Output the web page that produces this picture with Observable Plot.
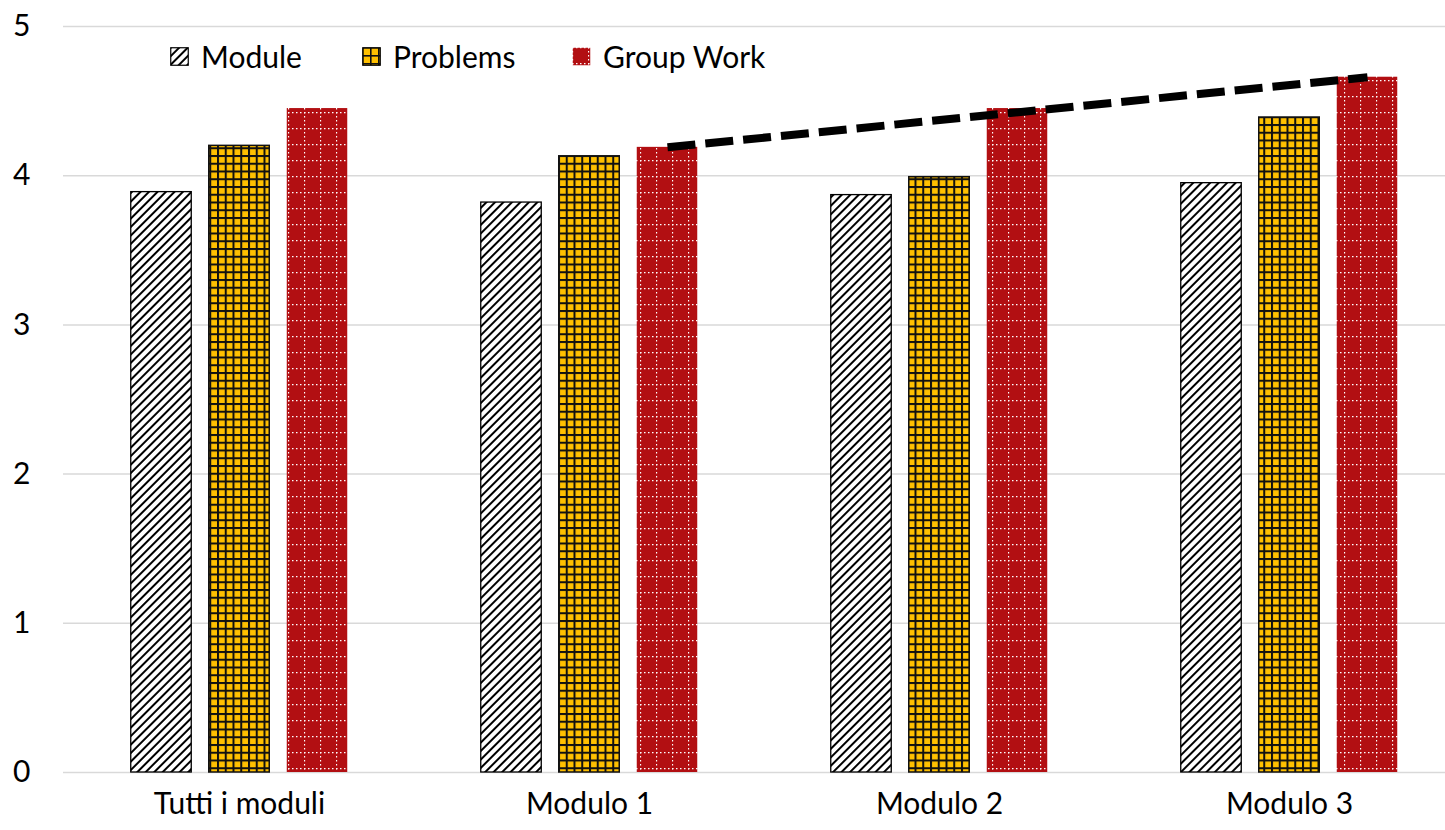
<!DOCTYPE html>
<html>
<head>
<meta charset="utf-8">
<script src="https://cdn.jsdelivr.net/npm/d3@7"></script>
<script src="https://cdn.jsdelivr.net/npm/@observablehq/plot@0.6"></script>
<style>
  html, body { margin: 0; padding: 0; background: #fff; }
  #wrap { position: relative; width: 1445px; height: 830px; font-family: Lato, "Open Sans", sans-serif; }
  #legend { position: absolute; left: 0; top: 0; width: 1445px; height: 0; }
  .item { position: absolute; top: 38px; display: flex; align-items: center; font-size: 30px; color: #000; line-height: 36px; }
  .item svg { margin-right: 12px; }
</style>
</head>
<body>
<svg width="0" height="0" style="position:absolute">
  <defs>
    <pattern id="patModule" patternUnits="userSpaceOnUse" width="6" height="6" patternTransform="rotate(45)">
      <rect width="6" height="6" fill="#fff"></rect>
      <rect x="0" y="0" width="2" height="6" fill="#000"></rect>
    </pattern>
    <pattern id="patProblems" patternUnits="userSpaceOnUse" width="7.75" height="7.75">
      <rect width="7.75" height="7.75" fill="#FFC000"></rect>
      <rect x="0" y="0" width="2" height="7.75" fill="#111"></rect>
      <rect x="0" y="0" width="7.75" height="2" fill="#111"></rect>
    </pattern>
    <pattern id="patGroup" patternUnits="userSpaceOnUse" width="16" height="16">
      <rect width="16" height="16" fill="#B20F12"></rect>
      <line x1="0.5" y1="0" x2="0.5" y2="16" stroke="#fff" stroke-width="1.3" stroke-dasharray="1.5 2.5"></line>
      <line x1="0" y1="0.5" x2="16" y2="0.5" stroke="#fff" stroke-width="1.3" stroke-dasharray="1.5 2.5"></line>
    </pattern>
    <pattern id="patProblemsLeg" patternUnits="userSpaceOnUse" width="8" height="8">
      <rect width="8" height="8" fill="#FFC000"></rect>
      <rect x="0" y="0" width="1.6" height="8" fill="#111"></rect>
      <rect x="0" y="0" width="8" height="1.6" fill="#111"></rect>
    </pattern>
  </defs>
</svg>
<div id="wrap">
  <div id="chart"></div>
  <div id="legend"></div>
</div>
<script>
// ---- data ----
const categories = ["Tutti i moduli", "Modulo 1", "Modulo 2", "Modulo 3"];
const seriesNames = ["Module", "Problems", "Group Work"];
const moduleValues = [3.89, 3.82, 3.87, 3.95];
const problemsValues = [4.20, 4.13, 3.99, 4.39];
const groupWorkValues = [4.45, 4.19, 4.45, 4.66];
const trendCategories = ["Modulo 1", "Modulo 3"];
const trendValues = [4.19, 4.66];
const yTicks = [0, 1, 2, 3, 4, 5];

const toRows = (vals) => categories.map((c, i) => ({category: c, value: vals[i]}));
const moduleRows = toRows(moduleValues);
const problemsRows = toRows(problemsValues);
const groupRows = toRows(groupWorkValues);
const trendRows = trendCategories.map((c, i) => ({category: c, value: trendValues[i]}));

const font = "Lato, 'Open Sans', sans-serif";
const bandStart = 63.25, band = 350.5;

const chart = Plot.plot({
  width: 1445,
  height: 830,
  marginTop: 26,
  marginBottom: 58,
  marginLeft: 63,
  marginRight: 0,
  style: {fontFamily: font, fontSize: "30px", color: "#000", background: "transparent", overflow: "visible"},
  x: {domain: categories, range: [bandStart, bandStart + band * categories.length], padding: 0, label: null},
  y: {domain: [0, 5], ticks: yTicks, label: null},
  marks: [
    Plot.ruleY(yTicks, {stroke: "#D9D9D9", strokeWidth: 1.5}),
    Plot.barY(moduleRows, {x: "category", y: "value", fill: "url(#patModule)", stroke: "#000", strokeWidth: 1.3, insetLeft: 66.75, insetRight: 222.75}),
    Plot.barY(problemsRows, {x: "category", y: "value", fill: "url(#patProblems)", stroke: "#111", strokeWidth: 1.5, insetLeft: 144.75, insetRight: 144.75}),
    Plot.barY(groupRows, {x: "category", y: "value", fill: "url(#patGroup)", insetLeft: 222.75, insetRight: 66.75}),
    Plot.line(trendRows, {x: "category", y: "value", dx: 78, stroke: "#000", strokeWidth: 8, strokeDasharray: "28 10", strokeLinecap: "butt"}),
    Plot.axisX({tickSize: 0, tickPadding: 20, fontSize: 30, label: null}),
    Plot.axisY({ticks: yTicks, tickFormat: d => String(d), tickSize: 0, tickPadding: 33, fontSize: 30, label: null})
  ]
});
document.getElementById("chart").appendChild(chart);

// ---- legend ----
const legendFills = {"Module": "url(#patModule)", "Problems": "url(#patProblemsLeg)", "Group Work": "url(#patGroup)"};
const legendStroke = {"Module": "#000", "Problems": "#000", "Group Work": "none"};
const legendLeft = [170, 362, 572];
const legend = document.getElementById("legend");
seriesNames.forEach((name, i) => {
  const item = document.createElement("div");
  item.className = "item";
  item.style.left = legendLeft[i] + "px";
  item.innerHTML = `<svg width="19" height="19"><rect x="0.75" y="0.75" width="17.5" height="17.5" fill="${legendFills[name]}" stroke="${legendStroke[name]}" stroke-width="1.2"></rect></svg><span>${name}</span>`;
  legend.appendChild(item);
});
</script>
</body>
</html>
